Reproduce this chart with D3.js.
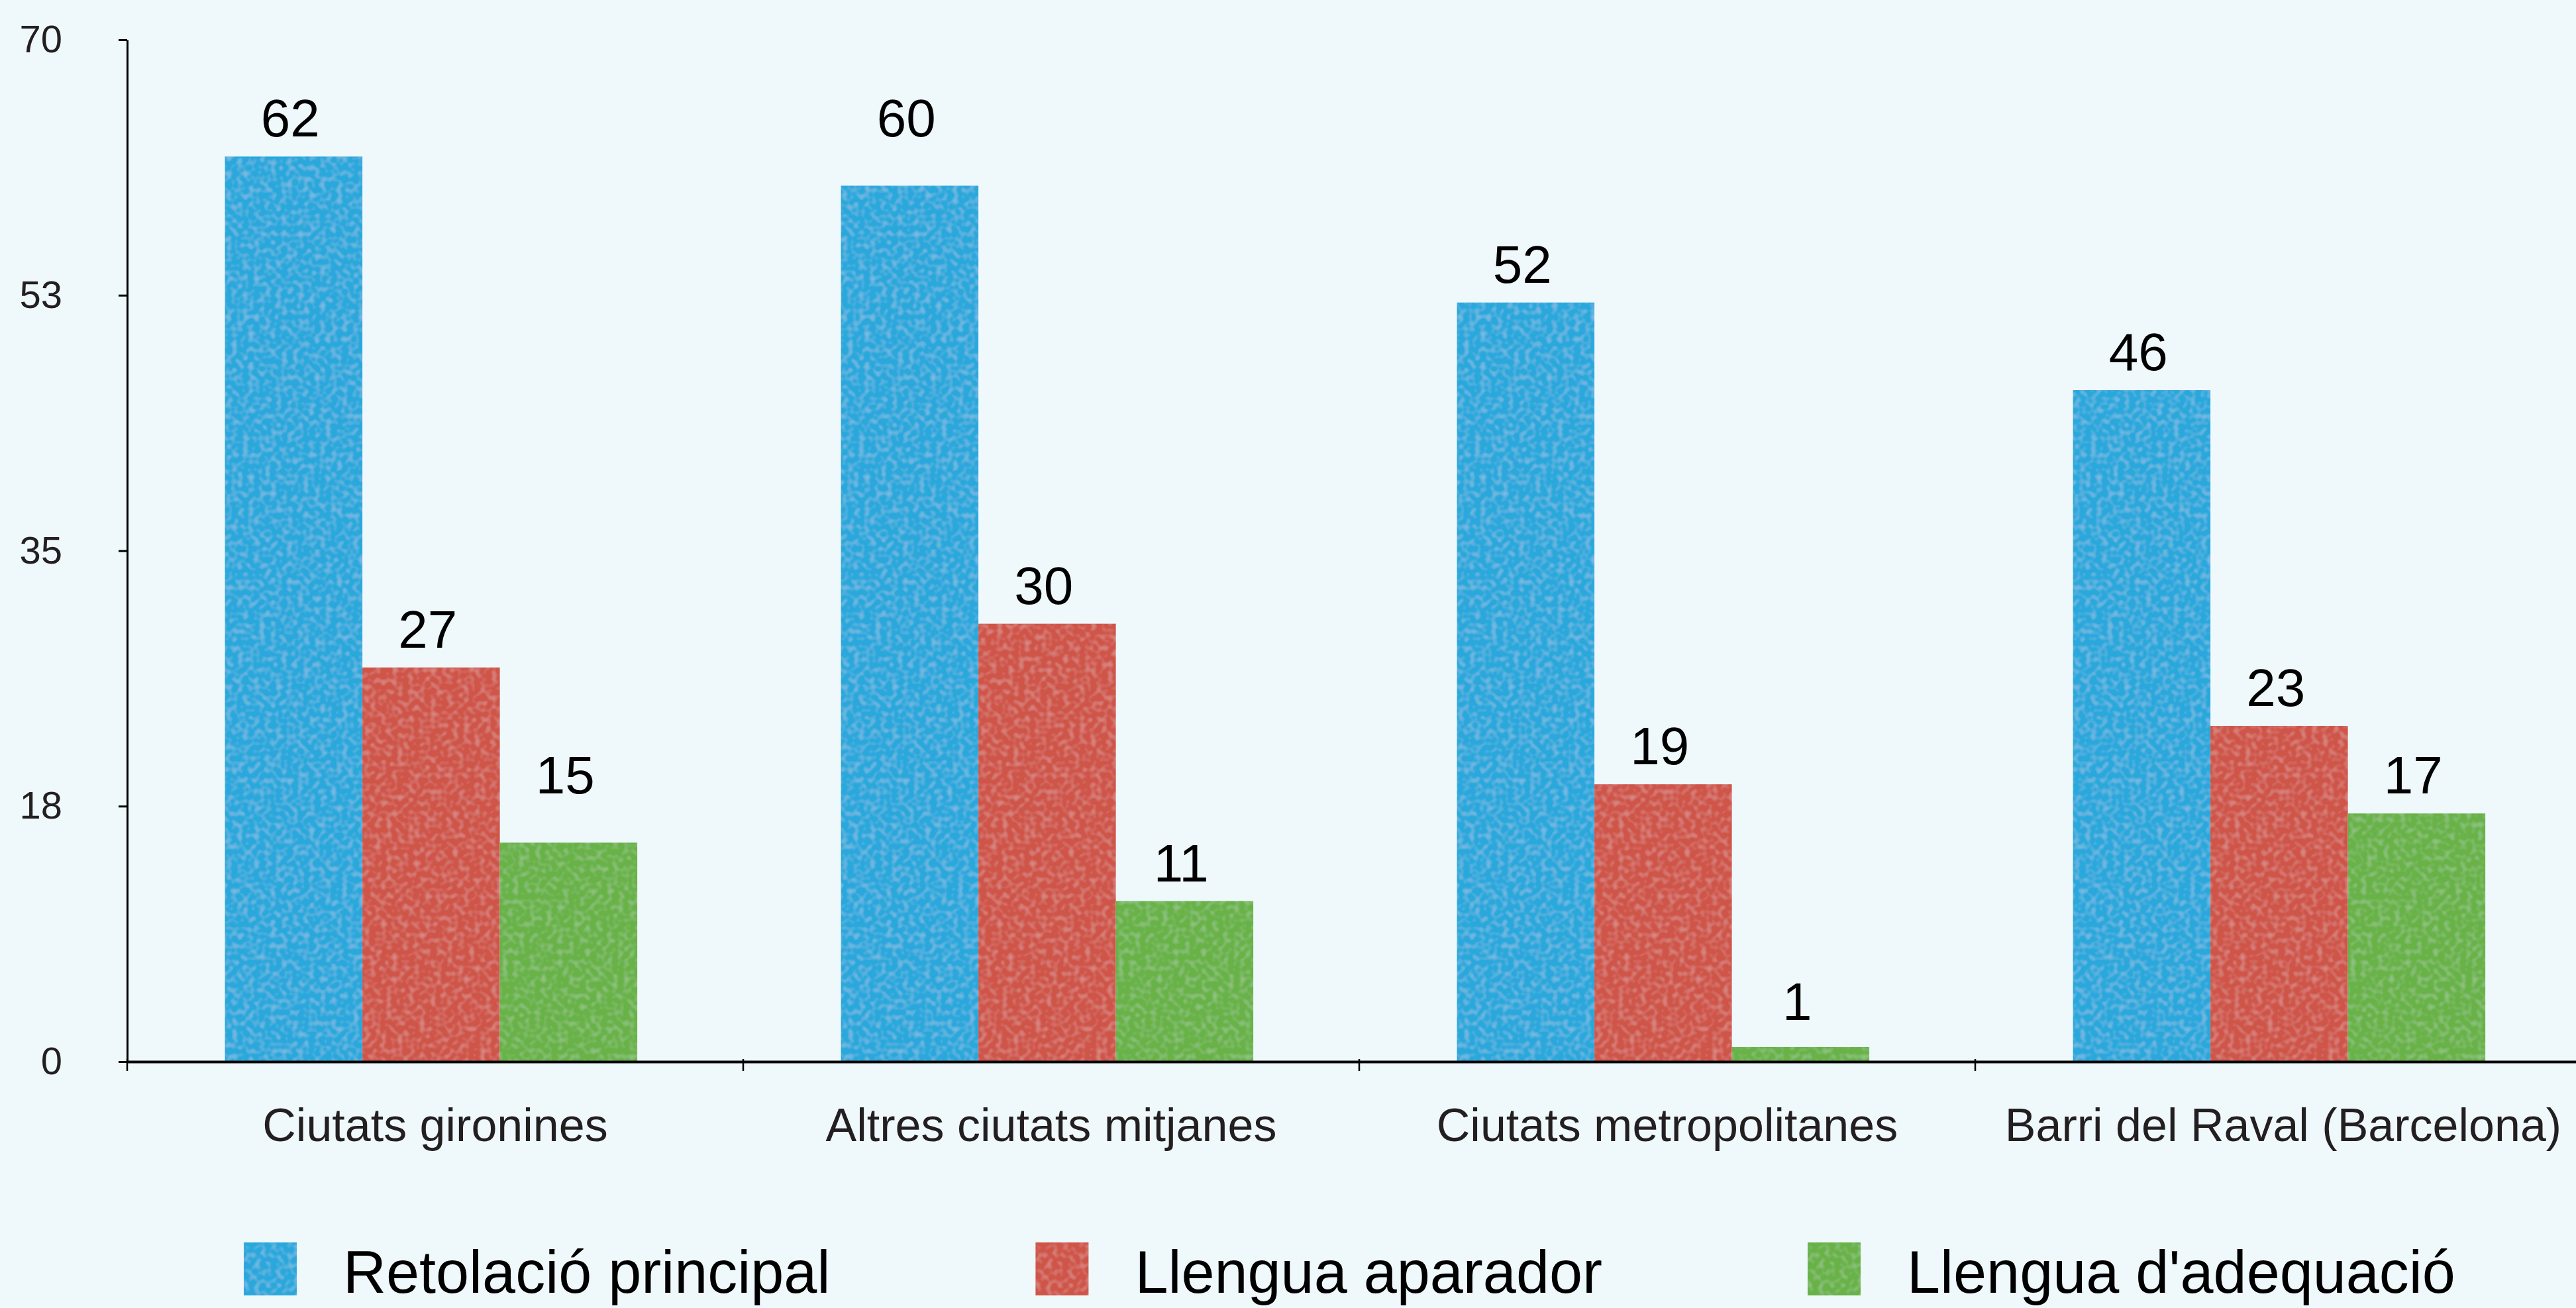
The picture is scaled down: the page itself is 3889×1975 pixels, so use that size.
<!DOCTYPE html>
<html>
<head>
<meta charset="utf-8">
<script src="https://cdn.jsdelivr.net/npm/d3@7"></script>
<style>
  html, body { margin: 0; padding: 0; background: #eff8fb; }
  svg { display: block; }
  text { font-family: "Liberation Sans", Arial, Helvetica, sans-serif; }
</style>
</head>
<body>
<script>
// ---- data ----
const categories = ["Ciutats gironines", "Altres ciutats mitjanes", "Ciutats metropolitanes", "Barri del Raval (Barcelona)"];
const seriesNames = ["Retolació principal", "Llengua aparador", "Llengua d'adequació"];
const retolacioPrincipal = [62, 60, 52, 46];
const llenguaAparador = [27, 30, 19, 23];
const llenguaAdequacio = [15, 11, 1, 17];
// heights (in value units) at which the value labels sit in the original
const retolacioLabelAt = [62, 62, 52, 46];
const aparadorLabelAt = [27, 30, 19, 23];
const adequacioLabelAt = [17, 11, 1.5, 17];
const yTickValues = [0, 17.5, 35, 52.5, 70];
const seriesColors = ["#2aa8dc", "#cf5449", "#67b247"];

const seriesValues = [retolacioPrincipal, llenguaAparador, llenguaAdequacio];
const seriesLabelAt = [retolacioLabelAt, aparadorLabelAt, adequacioLabelAt];

// ---- layout ----
const W = 3889, H = 1975;
const svg = d3.select("body").append("svg").attr("width", W).attr("height", H);
svg.append("rect").attr("width", W).attr("height", H).attr("fill", "#eff8fb");

const defs = svg.append("defs");
const f = defs.append("filter").attr("id", "grain").attr("x", 0).attr("y", 0).attr("width", 1).attr("height", 1);
f.append("feTurbulence").attr("type", "fractalNoise").attr("baseFrequency", 0.12).attr("numOctaves", 1).attr("seed", 4).attr("result", "t");
f.append("feColorMatrix").attr("in", "t").attr("type", "matrix")
  .attr("values", "0 0 0 0 1  0 0 0 0 1  0 0 0 0 1  0 0 0 0.45 -0.2").attr("result", "n");
f.append("feComposite").attr("in", "n").attr("in2", "SourceGraphic").attr("operator", "in").attr("result", "nc");
const fm = f.append("feMerge");
fm.append("feMergeNode").attr("in", "SourceGraphic");
fm.append("feMergeNode").attr("in", "nc");

const x0 = d3.scaleBand().domain(categories).range([192, 3912]).paddingInner(0).paddingOuter(0);
const x1 = d3.scaleBand().domain(seriesNames).range([0, x0.bandwidth()])
  .paddingInner(0).paddingOuter(0.741).align(0.48);
const y = d3.scaleLinear().domain([0, 70]).range([1603, 60]);

const textColor = "#231f20";

// bars
const groups = svg.append("g").selectAll("g")
  .data(categories).join("g")
  .attr("transform", d => `translate(${x0(d)},0)`);

groups.each(function(cat, ci) {
  const g = d3.select(this);
  const rows = seriesNames.map((s, si) => ({ s, si, v: seriesValues[si][ci], la: seriesLabelAt[si][ci] }));
  g.selectAll("rect").data(rows).join("rect")
    .attr("x", d => x1(d.s))
    .attr("y", d => y(d.v))
    .attr("width", x1.bandwidth())
    .attr("height", d => y(0) - y(d.v))
    .attr("fill", d => seriesColors[d.si])
    .attr("filter", "url(#grain)");
  g.selectAll("text.val").data(rows).join("text")
    .attr("class", "val")
    .attr("x", d => x1(d.s) + x1.bandwidth() / 2 - 5)
    .attr("y", d => y(d.la) - 30)
    .attr("text-anchor", "middle")
    .attr("font-size", 80)
    .attr("fill", "#000")
    .text(d => d.v);
});

// y axis
const yAxis = svg.append("g").attr("transform", "translate(192,0)")
  .call(d3.axisLeft(y).tickValues(yTickValues).tickFormat(d => Math.round(d))
    .tickSize(13).tickSizeOuter(0).tickPadding(85));
yAxis.select(".domain").attr("stroke", "#000").attr("stroke-width", 3);
yAxis.selectAll(".tick line").attr("stroke", "#000").attr("stroke-width", 3);
yAxis.selectAll(".tick text").attr("font-size", 58).attr("fill", textColor)
  .attr("font-family", "'Liberation Sans', Arial, sans-serif");

// x axis (labels)
const xAxis = svg.append("g").attr("transform", `translate(0,${y(0)})`)
  .call(d3.axisBottom(x0).tickSize(0).tickSizeOuter(0).tickPadding(70));
xAxis.select(".domain").attr("stroke", "#000").attr("stroke-width", 4);
xAxis.selectAll(".tick text").attr("font-size", 70).attr("fill", textColor)
  .attr("font-family", "'Liberation Sans', Arial, sans-serif");

// x axis boundary ticks
const bounds = categories.map(c => x0(c)).concat([x0.range()[1]]);
svg.append("g").selectAll("line").data(bounds).join("line")
  .attr("x1", d => d).attr("x2", d => d)
  .attr("y1", y(0) - 4).attr("y2", y(0) + 14)
  .attr("stroke", "#000").attr("stroke-width", 2.5);

// legend
const legend = svg.append("g").attr("transform", "translate(368,0)");
let lx = 0;
seriesNames.forEach((s, i) => {
  const item = legend.append("g").attr("transform", `translate(${lx},0)`);
  item.append("rect").attr("x", 0).attr("y", 1876).attr("width", 80).attr("height", 80)
    .attr("fill", seriesColors[i]).attr("filter", "url(#grain)");
  const t = item.append("text").attr("x", 150).attr("y", 1952)
    .attr("font-size", 90).attr("fill", "#000").text(s);
  lx += 150 + t.node().getComputedTextLength() + 310;
});
</script>
</body>
</html>
